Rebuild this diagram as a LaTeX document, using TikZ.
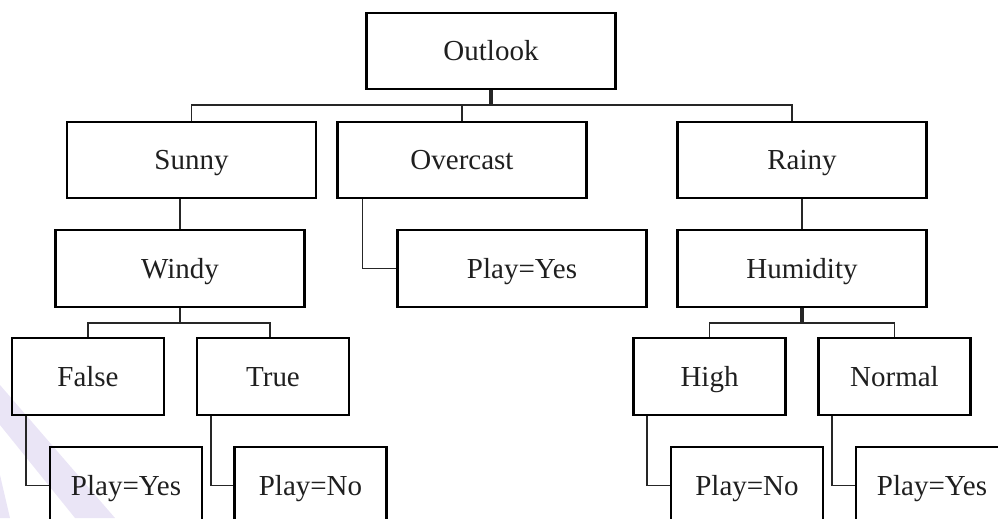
\documentclass[tikz,border=0pt]{standalone}
\usepackage{fontspec}
\setmainfont{Liberation Serif}
\usetikzlibrary{positioning,calc}
\tikzset{
    leaf/.style={
        rectangle,
        draw=black,
        line width=1.3pt,
        minimum width=3.04cm,
        minimum height=1.54cm,
        inner sep=0pt,
        text height=10.9pt,
        text depth=0pt,
        text=black!88,
        font=\fontsize{16.5}{19}\selectfont
    },
    branch/.style={
        leaf,
        minimum width=4.98cm,
        minimum height=1.52cm
    },
    watermark/.style={fill={rgb,255:red,234;green,229;blue,246}, draw=none}
}
\begin{document}
\begin{tikzpicture}[
            x=0.02cm, y=-0.02cm,
            link/.style={draw=black!85, line width=1pt},
            trunk/.style={link, line width=1.8pt}]
    \useasboundingbox (0,0) rectangle (998,518);
    \clip (0,0) rectangle (998,518);
    \fill[watermark] (0,385) -- (0,425) -- (75,518) -- (115,518) -- cycle;
    \fill[watermark] (0,475) -- (10,518) -- (0,518) -- cycle;

    \node[branch] (outlook) at (491,51) {Outlook};
    \node[branch] (sunny) at (191.5,160) {Sunny};
    \node[branch] (overcast) at (462,160) {Overcast};
    \node[branch] (rainy) at (802,160) {Rainy};
    \node[branch, minimum height=1.54cm] (windy) at (180,268.5) {Windy};
    \node[branch, minimum height=1.54cm] (overcast yes) at (522,268.5) {Play=Yes};
    \node[branch, minimum height=1.54cm] (humidity) at (802,268.5) {Humidity};
    \node[leaf] (windy false) at (88,376.5) {False};
    \node[leaf] (windy true) at (273,376.5) {True};
    \node[leaf] (humid high) at (709.5,376.5) {High};
    \node[leaf] (humid normal) at (894.5,376.5) {Normal};
    \node[leaf] (false yes) at (126,485.5) {Play=Yes};
    \node[leaf] (true no) at (310.5,485.5) {Play=No};
    \node[leaf] (high no) at (747,485.5) {Play=No};
    \node[leaf] (normal yes) at (932,485.5) {Play=Yes};

    \draw[trunk] (outlook.south) -- ++(0,15) coordinate (outlook bus);
    \draw[link] (sunny.north) |- (outlook bus) -| ([xshift=-0.2cm]rainy.north);
    \draw[link] (overcast.north) -- (overcast.north |- outlook bus);

    \draw[link] (windy.north) -- (windy.north |- sunny.south);
    \draw[link] (rainy) -- (humidity);
    \draw[link] ([xshift=0.52cm]overcast.south west) |- (overcast yes.west);

    \draw[link] (windy.south) -- ++(0,15) coordinate (windy bus);
    \draw[link] (windy false.north) |- (windy bus) -| ([xshift=-0.06cm]windy true.north);
    \draw[trunk] (humidity.south) -- ++(0,15) coordinate (humidity bus);
    \draw[link] (humid high.north) |- (humidity bus) -| (humid normal.north);

    \draw[link] ([xshift=0.3cm]windy false.south west) |- (false yes.west);
    \draw[link] ([xshift=0.3cm]windy true.south west) |- (true no.west);
    \draw[link] ([xshift=0.3cm]humid high.south west) |- (high no.west);
    \draw[link] ([xshift=0.3cm]humid normal.south west) |- (normal yes.west);
\end{tikzpicture}
\end{document}
